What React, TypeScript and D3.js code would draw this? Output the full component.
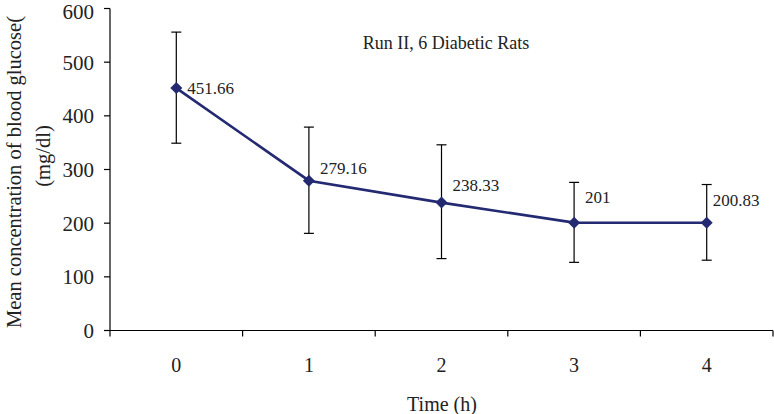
import React from "react";
import * as d3 from "d3";

const categories = ["0", "1", "2", "3", "4"];
const means = [451.66, 279.16, 238.33, 201, 200.83];
const upper = [556, 379, 346, 276, 272];
const lower = [349, 181, 134, 127, 131];
const valueLabels = ["451.66", "279.16", "238.33", "201", "200.83"];
const yTicks = [0, 100, 200, 300, 400, 500, 600];
const title = "Run II, 6 Diabetic Rats";
const xTitle = "Time (h)";
const yTitle1 = "Mean concentration of blood glucose(";
const yTitle2 = "(mg/dl)";

// layout
const W = 774, H = 414;
const left = 110, right = 773, top = 8.5, bottom = 330.5;
const labelDx = [11, 11, 11, 11, 6];
const labelDy = [0, -13, -18, -26, -23];
const FONT = "'Liberation Serif', 'Times New Roman', serif";
const NAVY = "#232a72";

export default function App() {
  const x = d3.scaleBand<string>().domain(categories).range([left, right]).padding(0);
  const y = d3.scaleLinear().domain([0, 600]).range([bottom, top]);
  const cx = (c: string) => (x(c) as number) + x.bandwidth() / 2;
  const line = d3
    .line<number>()
    .x((_, i) => cx(categories[i]))
    .y((d) => y(d));
  const r = 6;
  const diamond = `M0,${-r}L${r},0L0,${r}L${-r},0Z`;
  const cap = 5;
  const bounds = [left, ...categories.map((c) => (x(c) as number) + x.bandwidth())];

  return (
    <svg width={W} height={H} style={{ position: "absolute", left: 0, top: 0, background: "#fff" }} fontFamily={FONT}>
      <rect x={0} y={0} width={W} height={H} fill="#fff" />
      {/* y axis */}
      <line x1={left} x2={left} y1={top} y2={bottom} stroke="#000" strokeWidth={1.2} />
      {yTicks.map((t) => (
        <g key={t}>
          <line x1={left - 6} x2={left} y1={y(t)} y2={y(t)} stroke="#000" strokeWidth={1.2} />
          <text x={94} y={Math.max(y(t), 12)} dy="0.35em" textAnchor="end" fontSize={21} fill="#222">
            {t}
          </text>
        </g>
      ))}
      {/* x axis */}
      <line x1={left - 6} x2={right} y1={bottom} y2={bottom} stroke="#000" strokeWidth={1.2} />
      {bounds.map((b, i) => (
        <line key={i} x1={b} x2={b} y1={bottom} y2={bottom + 6} stroke="#000" strokeWidth={1.2} />
      ))}
      {categories.map((c) => (
        <text key={c} x={cx(c)} y={365} dy="0.35em" textAnchor="middle" fontSize={20} fill="#222">
          {c}
        </text>
      ))}
      <text x={442} y={404} dy="0.35em" textAnchor="middle" fontSize={20} fill="#222">
        {xTitle}
      </text>
      <g transform="translate(14,172) rotate(-90)">
        <text x={0} y={0} dy="0.35em" textAnchor="middle" fontSize={20.5} fill="#222">
          {yTitle1}
        </text>
      </g>
      <g transform="translate(43,156) rotate(-90)">
        <text x={0} y={0} dy="0.35em" textAnchor="middle" fontSize={20.5} fill="#222">
          {yTitle2}
        </text>
      </g>
      <text x={446} y={43} dy="0.35em" textAnchor="middle" fontSize={18} fill="#222">
        {title}
      </text>
      {/* error bars */}
      {categories.map((c, i) => (
        <g key={c} stroke="#000" strokeWidth={1.2}>
          <line x1={cx(c)} x2={cx(c)} y1={y(upper[i])} y2={y(lower[i])} />
          <line x1={cx(c) - cap} x2={cx(c) + cap} y1={y(upper[i])} y2={y(upper[i])} />
          <line x1={cx(c) - cap} x2={cx(c) + cap} y1={y(lower[i])} y2={y(lower[i])} />
        </g>
      ))}
      <path d={line(means) || ""} fill="none" stroke={NAVY} strokeWidth={2.6} />
      {means.map((m, i) => (
        <path key={i} d={diamond} transform={`translate(${cx(categories[i])},${y(m)})`} fill={NAVY} />
      ))}
      {means.map((m, i) => (
        <text
          key={i}
          x={cx(categories[i]) + labelDx[i]}
          y={y(m) + labelDy[i]}
          dy="0.35em"
          fontSize={17}
          fill="#222"
        >
          {valueLabels[i]}
        </text>
      ))}
    </svg>
  );
}
